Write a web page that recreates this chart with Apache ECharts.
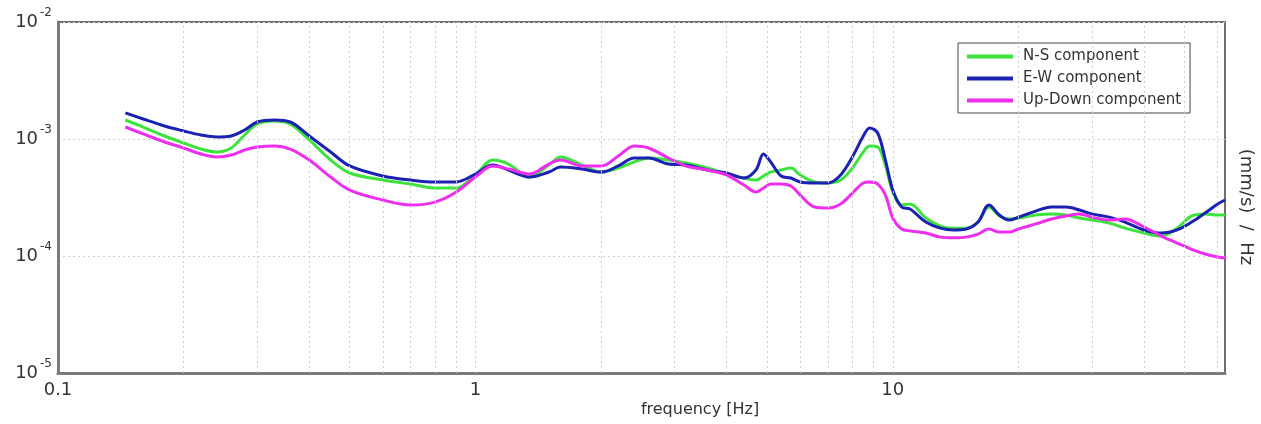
<!DOCTYPE html>
<html>
<head>
<meta charset="utf-8">
<script src="https://cdn.jsdelivr.net/npm/echarts@6/dist/echarts.min.js"></script>
<style>
  html, body { margin: 0; padding: 0; background: #ffffff; }
  #chart { width: 1261px; height: 424px; }
</style>
</head>
<body>
<div id="chart"></div>
<script>
// Spectral velocity density of three ground-motion components.
// Values are stored in units of 1e-3 (mm/s)/Hz.
const UNIT = 1e-3;

const freqHz = [
  0.145, 0.16, 0.18, 0.2, 0.22, 0.24, 0.26, 0.28, 0.3, 0.33, 0.36, 0.4, 0.45, 0.5,
  0.6, 0.7, 0.8, 0.9, 1.0, 1.1, 1.2, 1.35, 1.5, 1.6, 1.8, 2.0, 2.2, 2.4, 2.6, 2.9,
  3.2, 3.6, 4.0, 4.4, 4.7, 4.9, 5.1, 5.4, 5.7, 6.0, 6.5, 7.0, 7.5, 8.0, 8.5, 8.8,
  9.2, 9.6, 10, 10.5, 11, 12, 13, 14, 15, 16, 17, 18, 19, 20, 22, 24, 26, 28, 30,
  33, 36, 40, 44, 48, 52, 56, 60, 62.5
];

const nsComponent = [
  1.453, 1.266, 1.061, 0.924, 0.821, 0.774, 0.838, 1.082, 1.344, 1.425, 1.344, 0.981, 0.661, 0.512,
  0.446, 0.412, 0.381, 0.381, 0.492, 0.661, 0.611, 0.473, 0.599, 0.702, 0.599, 0.522, 0.565, 0.636, 0.688, 0.661,
  0.624, 0.565, 0.502, 0.464, 0.446, 0.483, 0.522, 0.543, 0.565, 0.492, 0.429, 0.421, 0.446, 0.565, 0.774, 0.871,
  0.854, 0.599, 0.352, 0.273, 0.278, 0.211, 0.180, 0.173, 0.173, 0.195, 0.262, 0.220, 0.207, 0.211, 0.224, 0.229, 0.224, 0.211, 0.203,
  0.191, 0.173, 0.157, 0.148, 0.173, 0.220, 0.229, 0.224, 0.224
];

const ewComponent = [
  1.67, 1.482, 1.292, 1.171, 1.082, 1.040, 1.061, 1.194, 1.397, 1.453, 1.397, 1.061, 0.774, 0.588,
  0.483, 0.446, 0.429, 0.429, 0.502, 0.599, 0.543, 0.473, 0.522, 0.576, 0.554, 0.522, 0.588, 0.688, 0.688, 0.611,
  0.599, 0.543, 0.512, 0.464, 0.543, 0.744, 0.636, 0.483, 0.464, 0.429, 0.421, 0.421, 0.492, 0.702, 1.061, 1.242,
  1.126, 0.661, 0.366, 0.262, 0.252, 0.195, 0.173, 0.167, 0.170, 0.195, 0.273, 0.224, 0.203, 0.215, 0.242, 0.262, 0.262, 0.247, 0.229,
  0.215, 0.195, 0.167, 0.157, 0.167, 0.195, 0.233, 0.278, 0.301
];

const udComponent = [
  1.266, 1.104, 0.943, 0.838, 0.744, 0.702, 0.730, 0.805, 0.854, 0.871, 0.821, 0.661, 0.473, 0.366,
  0.301, 0.273, 0.289, 0.352, 0.473, 0.588, 0.554, 0.502, 0.611, 0.661, 0.588, 0.588, 0.716, 0.871, 0.838, 0.688,
  0.588, 0.543, 0.492, 0.404, 0.352, 0.381, 0.412, 0.412, 0.396, 0.332, 0.262, 0.257, 0.278, 0.345, 0.421, 0.429,
  0.412, 0.332, 0.211, 0.170, 0.164, 0.157, 0.145, 0.143, 0.145, 0.154, 0.170, 0.160, 0.160, 0.170, 0.188, 0.207, 0.220, 0.229, 0.215,
  0.203, 0.207, 0.177, 0.148, 0.129, 0.114, 0.104, 0.098, 0.096
];

const seriesNames = ['N-S component', 'E-W component', 'Up-Down component'];
const seriesColors = ['#3de23d', '#1b22b2', '#ee2eee'];

// Minor vertical grid positions (2..9 within each decade, plus decades)
const gridFreqs = [
  0.2, 0.3, 0.4, 0.5, 0.6, 0.7, 0.8, 0.9, 1,
  2, 3, 4, 5, 6, 7, 8, 9, 10,
  20, 30, 40, 50, 60
];

const FONT = 'DejaVu Sans';

function toPairs(vals) {
  return freqHz.map((f, i) => [f, vals[i] * UNIT]);
}

const chart = echarts.init(document.getElementById('chart'), null, { renderer: 'canvas' });

const gridStyle = { color: '#cfcfcf', width: 1, type: [2, 3] };

const lineSeries = [nsComponent, ewComponent, udComponent].map((vals, i) => ({
  name: seriesNames[i],
  type: 'line',
  data: toPairs(vals),
  smooth: 0.35,
  showSymbol: false,
  symbol: 'none',
  z: 3,
  lineStyle: { width: 3, color: seriesColors[i] },
  itemStyle: { color: seriesColors[i] }
}));

const option = {
  animation: false,
  backgroundColor: '#ffffff',
  grid: {
    left: 58, right: 36, top: 22, bottom: 51,
    show: true, borderColor: '#6e6e6e', borderWidth: 2, backgroundColor: '#ffffff'
  },
  legend: {
    data: seriesNames,
    orient: 'vertical',
    left: 958, top: 43,
    backgroundColor: '#ffffff',
    borderColor: '#444444', borderWidth: 1,
    padding: [6, 9, 5, 9],
    icon: 'rect',
    itemWidth: 46, itemHeight: 4, itemGap: 7,
    textStyle: { fontFamily: FONT, fontSize: 15, color: '#333333', padding: [0, 0, 0, 5] }
  },
  xAxis: {
    type: 'log', logBase: 10, min: 0.1, max: 62.5,
    axisLine: { show: true, lineStyle: { color: '#7a7a7a', width: 3 } },
    axisTick: { show: false },
    splitLine: { show: false },
    axisLabel: {
      fontFamily: FONT, fontSize: 18, color: '#333333', margin: 8,
      showMaxLabel: false,
      formatter: function (v) {
        const e = Math.log10(v);
        if (Math.abs(e - Math.round(e)) > 1e-6) return '';
        return String(Number(v.toPrecision(6)));
      }
    }
  },
  yAxis: {
    type: 'log', logBase: 10, min: 1e-5, max: 1e-2,
    axisLine: { show: true, lineStyle: { color: '#7a7a7a', width: 3 } },
    axisTick: { show: false },
    splitLine: { show: true, lineStyle: gridStyle },
    axisLabel: {
      margin: 6,
      formatter: function (v) {
        const e = Math.round(Math.log10(v));
        return '{b|10}{s|' + e + '}';
      },
      rich: {
        b: { fontFamily: FONT, fontSize: 18, color: '#333333', lineHeight: 30, verticalAlign: 'middle' },
        s: { fontFamily: FONT, fontSize: 12, color: '#333333', lineHeight: 14, verticalAlign: 'top', padding: [0, 0, 0, 2] }
      }
    }
  },
  graphic: [
    {
      type: 'text', x: 700, y: 410,
      style: { text: 'frequency [Hz]', fontFamily: FONT, fontSize: 16, fill: '#333333', align: 'center', verticalAlign: 'middle' }
    },
    {
      type: 'text', x: 1246, y: 207, rotation: -Math.PI / 2,
      style: { text: '(mm/s)  /  Hz', fontFamily: FONT, fontSize: 18, fill: '#333333', align: 'center', verticalAlign: 'middle' }
    }
  ],
  series: [
    {
      name: 'grid',
      type: 'line',
      data: [[1, 1e-4]],
      showSymbol: false,
      symbol: 'none',
      silent: true,
      z: 1,
      lineStyle: { opacity: 0 },
      markLine: {
        silent: true,
        symbol: ['none', 'none'],
        label: { show: false },
        lineStyle: gridStyle,
        animation: false,
        data: gridFreqs.map(f => ({ xAxis: f }))
      }
    }
  ].concat(lineSeries)
};

chart.setOption(option);
</script>
</body>
</html>
